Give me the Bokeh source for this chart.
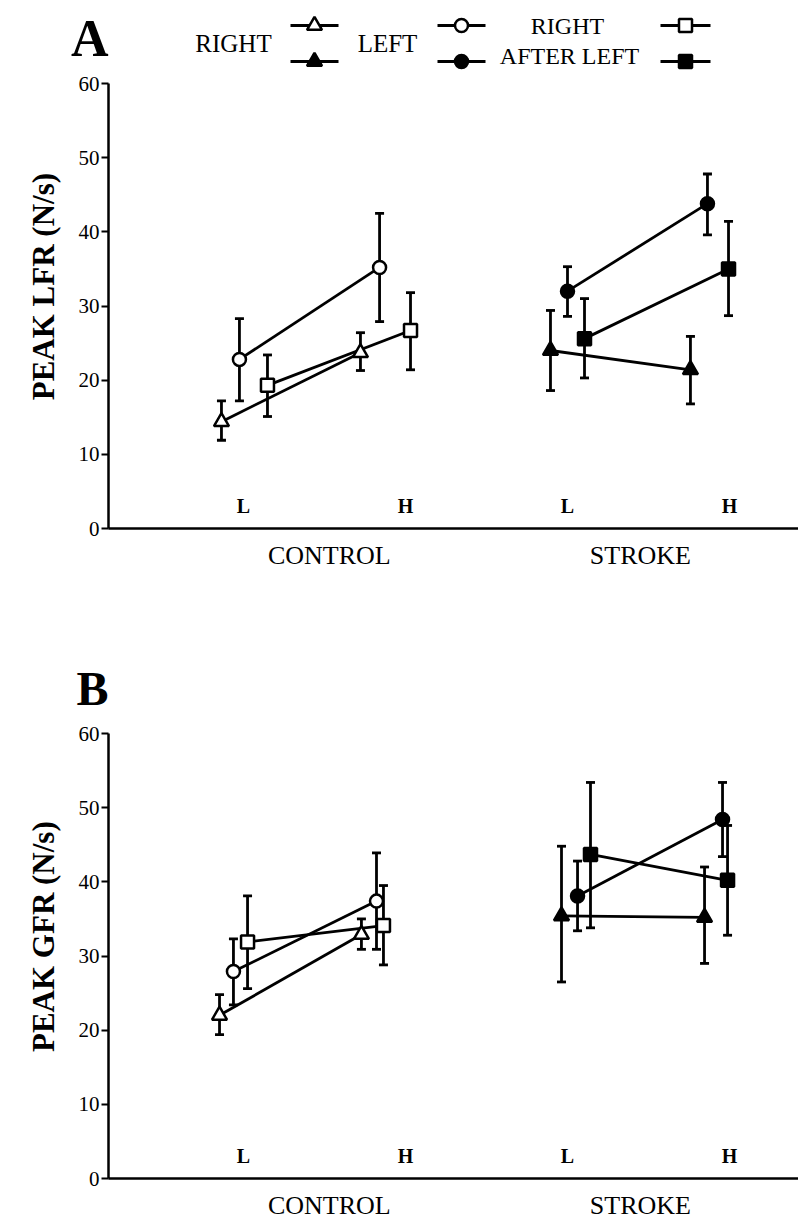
from bokeh.plotting import figure
from bokeh.layouts import column
from bokeh.models import Range1d, FixedTicker
from bokeh.core.properties import value
from bokeh.embed import file_html
from bokeh.resources import INLINE

# ---------------- data ----------------
groups = ["CONTROL", "STROKE"]
levels = ["L", "H", "L", "H"]
series = ["RIGHT", "LEFT", "RIGHT AFTER LEFT"]
y_ticks = [0, 10, 20, 30, 40, 50, 60]

# order of the 4 values: CONTROL-L, CONTROL-H, STROKE-L, STROKE-H
# Panel A: PEAK LFR (N/s)
lfr_right = [14.4, 23.7, 24.0, 21.4]
lfr_right_lo = [11.9, 21.3, 18.6, 16.8]
lfr_right_hi = [17.2, 26.4, 29.4, 25.9]
lfr_left = [22.8, 35.2, 32.0, 43.8]
lfr_left_lo = [17.2, 27.9, 28.6, 39.6]
lfr_left_hi = [28.3, 42.5, 35.3, 47.8]
lfr_ral = [19.3, 26.7, 25.6, 35.0]
lfr_ral_lo = [15.1, 21.4, 20.3, 28.7]
lfr_ral_hi = [23.4, 31.8, 31.0, 41.4]

# Panel B: PEAK GFR (N/s)
gfr_right = [22.0, 32.9, 35.4, 35.2]
gfr_right_lo = [19.4, 30.9, 26.5, 29.0]
gfr_right_hi = [24.8, 35.0, 44.8, 42.0]
gfr_left = [27.9, 37.4, 38.1, 48.4]
gfr_left_lo = [23.4, 30.9, 33.4, 43.4]
gfr_left_hi = [32.3, 43.9, 42.8, 53.4]
gfr_ral = [31.9, 34.1, 43.7, 40.2]
gfr_ral_lo = [25.6, 28.8, 33.8, 32.8]
gfr_ral_hi = [38.1, 39.5, 53.4, 47.6]

# ---------------- layout (positions, styles) ----------------
base_x = [1, 2, 3, 4]
posA_right = [0.864, 1.722, 2.895, 3.759]
posA_left = [0.975, 1.840, 3.000, 3.864]
posA_ral = [1.148, 2.031, 3.105, 3.994]
posB_right = [0.852, 1.728, 2.963, 3.846]
posB_left = [0.938, 1.821, 3.062, 3.957]
posB_ral = [1.025, 1.864, 3.142, 3.988]

FONT = "Liberation Serif"
W = 798
LEFT = 108
TOP = 13
LW = 2.8
markers = ["triangle", "circle", "square"]
msizes = [15, 13, 13]
NB = "\u00a0" * 5


def make_panel(height, border_bottom, means, los, his, poss, ylabel):
    p = figure(width=W, height=height, x_range=Range1d(0.1667, 4.426),
               y_range=Range1d(0, 60), output_backend="svg",
               toolbar_location=None, min_border_left=LEFT, min_border_right=0,
               min_border_top=TOP, min_border_bottom=border_bottom)
    p.outline_line_color = None
    p.grid.visible = False

    ya = p.yaxis[0]
    ya.ticker = FixedTicker(ticks=y_ticks)
    ya.axis_line_width = 2.5
    ya.major_tick_line_width = 2
    ya.major_tick_out = 7
    ya.major_tick_in = 0
    ya.minor_tick_out = 0
    ya.minor_tick_in = 0
    ya.major_label_standoff = 2
    ya.major_label_text_font = FONT
    ya.major_label_text_font_size = "21px"
    ya.major_label_text_color = "black"
    ya.axis_label = NB + ylabel
    ya.axis_label_text_font = FONT
    ya.axis_label_text_font_style = "bold"
    ya.axis_label_text_font_size = "31px"
    ya.axis_label_text_color = "black"
    ya.axis_label_standoff = 15

    xa = p.xaxis[0]
    xa.ticker = FixedTicker(ticks=[1.53, 3.45])
    xa.major_label_overrides = {1.53: groups[0], 3.45: groups[1]}
    xa.axis_line_width = 2.5
    xa.major_tick_out = 0
    xa.major_tick_in = 0
    xa.minor_tick_out = 0
    xa.minor_tick_in = 0
    xa.major_label_standoff = 12
    xa.major_label_text_font = FONT
    xa.major_label_text_font_size = "26px"
    xa.major_label_text_color = "black"

    # lines and error bars
    for m, lo, hi, xs in zip(means, los, his, poss):
        for a, b in [(0, 2), (2, 4)]:
            p.line(xs[a:b], m[a:b], line_width=LW, line_color="black")
        p.segment(xs, lo, xs, hi, line_width=LW, line_color="black")
        p.scatter(xs, lo, marker="dash", size=9, line_width=LW, line_color="black")
        p.scatter(xs, hi, marker="dash", size=9, line_width=LW, line_color="black")
    # markers: open = CONTROL, filled = STROKE
    for m, xs, mk, sz in zip(means, poss, markers, msizes):
        p.scatter(xs[0:2], m[0:2], marker=mk, size=sz, line_width=2.5,
                  line_color="black", fill_color="white")
        p.scatter(xs[2:4], m[2:4], marker=mk, size=sz, line_width=2.5,
                  line_color="black", fill_color="black")

    p.text(x=base_x, y=[3.1] * 4, text=levels, text_font=value(FONT),
           text_font_style="bold", text_font_size="20px", text_color="black",
           text_align="center", text_baseline="middle")
    return p


def make_head(height, letter, letter_y, size):
    f = figure(width=W, height=height, x_range=Range1d(LEFT, W),
               y_range=Range1d(0, height), output_backend="svg",
               toolbar_location=None, min_border_left=LEFT, min_border_right=0,
               min_border_top=0, min_border_bottom=0,
               x_axis_location=None, y_axis_location="left")
    f.outline_line_color = None
    f.grid.visible = False
    ya = f.yaxis[0]
    ya.ticker = FixedTicker(ticks=[letter_y])
    ya.major_label_overrides = {letter_y: letter}
    ya.axis_line_color = None
    ya.major_tick_line_color = None
    ya.minor_tick_line_color = None
    ya.major_tick_out = 0
    ya.major_tick_in = 0
    ya.major_label_standoff = 0
    ya.major_label_text_font = FONT
    ya.major_label_text_font_style = "bold"
    ya.major_label_text_font_size = size
    ya.major_label_text_color = "black"
    return f


# header A with legend (x = page px, y = px from the header's bottom)
hA = make_head(70, "A", 32, "52px")
hA.text(x=[233, 387], y=[27, 27], text=[series[0], series[1]],
        text_font=value(FONT), text_font_size="25px", text_color="black",
        text_align="center", text_baseline="middle")
hA.text(x=[567, 569], y=[45, 14.5], text=["RIGHT", "AFTER LEFT"],
        text_font=value(FONT), text_font_size="24px", text_color="black",
        text_align="center", text_baseline="middle")
leg_x = [(290, 338), (437, 485), (660, 710)]
for (x0, x1), mk, sz in zip(leg_x, markers, msizes):
    for yy, fill in [(45, "white"), (9, "black")]:
        hA.segment([x0], [yy], [x1], [yy], line_width=LW, line_color="black")
        hA.scatter([(x0 + x1) / 2], [yy], marker=mk, size=sz, line_width=2.5,
                   line_color="black", fill_color=fill)

pA = make_panel(530, 72,
                [lfr_right, lfr_left, lfr_ral],
                [lfr_right_lo, lfr_left_lo, lfr_ral_lo],
                [lfr_right_hi, lfr_left_hi, lfr_ral_hi],
                [posA_right, posA_left, posA_ral],
                "PEAK LFR (N/s)")

hB = make_head(120, "B", 32, "48px")

pB = make_panel(507, 49,
                [gfr_right, gfr_left, gfr_ral],
                [gfr_right_lo, gfr_left_lo, gfr_ral_lo],
                [gfr_right_hi, gfr_left_hi, gfr_ral_hi],
                [posB_right, posB_left, posB_ral],
                "PEAK GFR (N/s)")

layout = column(hA, pA, hB, pB, spacing=0)
open("out.html", "w").write(file_html(layout, INLINE))
